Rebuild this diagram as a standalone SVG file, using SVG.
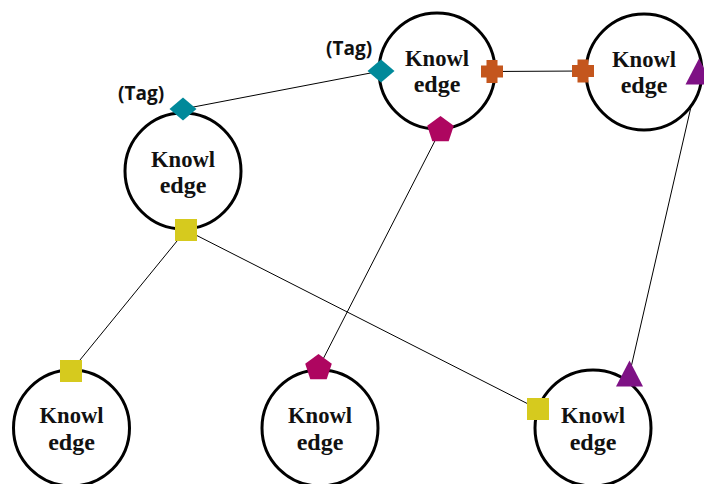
<svg xmlns="http://www.w3.org/2000/svg" width="704" height="484" viewBox="0 0 704 484">
  <style>
    .node { fill: #ffffff; stroke: #000000; stroke-width: 3; }
    .label { font-family: "Liberation Serif", "Times New Roman", serif; font-weight: bold; font-size: 24px; fill: #111111; text-anchor: middle; }
    .tag { font-family: "Open Sans", "Liberation Sans", sans-serif; font-weight: bold; font-size: 19px; fill: #111111; }
    .link { stroke: #000000; stroke-width: 1; fill: none; }
    .diamond { fill: #00899A; }
    .cross { fill: #C4561D; }
    .pent { fill: #AE0660; }
    .square { fill: #D6CA1E; }
    .tri { fill: #7E1185; }
  </style>
  <defs>
    <polygon id="diamond" points="0,-11.5 13.5,0 0,11.5 -13.5,0"/>
    <path id="cross" d="M-5.5,-11.5 H5.5 V-6 H11 V6 H5.5 V11.5 H-5.5 V6 H-11 V-6 H-5.5 Z"/>
    <polygon id="pent" points="0,-14 13.3,-4.3 8.2,11.3 -8.2,11.3 -13.3,-4.3"/>
    <rect id="square" x="-11" y="-11" width="22" height="22"/>
    <polygon id="tri" points="0,-13.5 13.5,12.5 -13.5,12.5"/>
  </defs>

  <rect width="704" height="484" fill="#ffffff"/>

  <!-- connectors -->
  <g id="connectors">
    <line class="link" x1="183" y1="109" x2="381" y2="71"/>
    <line class="link" x1="492" y1="71.5" x2="583" y2="71"/>
    <line class="link" x1="440.5" y1="130" x2="318.5" y2="368"/>
    <line class="link" x1="186" y1="230" x2="71" y2="371"/>
    <line class="link" x1="186" y1="230" x2="538" y2="409"/>
    <line class="link" x1="699" y1="72" x2="629.5" y2="374"/>
  </g>

  <!-- nodes -->
  <g id="node-left">
    <circle class="node" cx="183" cy="171" r="58"/>
    <text class="label" x="183" y="167" textLength="64" lengthAdjust="spacingAndGlyphs">Knowl</text>
    <text class="label" x="183" y="193">edge</text>
  </g>
  <g id="node-top-middle">
    <circle class="node" cx="437" cy="71" r="58"/>
    <text class="label" x="437" y="66" textLength="64" lengthAdjust="spacingAndGlyphs">Knowl</text>
    <text class="label" x="437" y="92">edge</text>
  </g>
  <g id="node-top-right">
    <circle class="node" cx="644" cy="72" r="58"/>
    <text class="label" x="644" y="67" textLength="64" lengthAdjust="spacingAndGlyphs">Knowl</text>
    <text class="label" x="644" y="93">edge</text>
  </g>
  <g id="node-bottom-left">
    <circle class="node" cx="71.5" cy="428" r="58"/>
    <text class="label" x="71.5" y="423" textLength="64" lengthAdjust="spacingAndGlyphs">Knowl</text>
    <text class="label" x="71.5" y="450">edge</text>
  </g>
  <g id="node-bottom-middle">
    <circle class="node" cx="320" cy="428" r="58"/>
    <text class="label" x="320" y="423" textLength="64" lengthAdjust="spacingAndGlyphs">Knowl</text>
    <text class="label" x="320" y="450">edge</text>
  </g>
  <g id="node-bottom-right">
    <circle class="node" cx="593" cy="428" r="58"/>
    <text class="label" x="593" y="423" textLength="64" lengthAdjust="spacingAndGlyphs">Knowl</text>
    <text class="label" x="593" y="450">edge</text>
  </g>

  <!-- end markers -->
  <g id="markers">
    <use href="#diamond" class="diamond" x="183" y="109"/>
    <use href="#diamond" class="diamond" x="381" y="71"/>
    <use href="#cross" class="cross" x="492" y="71.5"/>
    <use href="#cross" class="cross" x="583" y="71"/>
    <use href="#pent" class="pent" x="440.5" y="130"/>
    <use href="#pent" class="pent" x="318.5" y="368"/>
    <use href="#square" class="square" x="186" y="230"/>
    <use href="#square" class="square" x="71" y="371"/>
    <use href="#square" class="square" x="538" y="409"/>
    <use href="#tri" class="tri" x="699" y="72"/>
    <use href="#tri" class="tri" x="629.5" y="374"/>
  </g>

  <!-- tag labels -->
  <g id="tags">
    <text class="tag" x="118" y="100">(Tag)</text>
    <text class="tag" x="326" y="55">(Tag)</text>
  </g>
</svg>
